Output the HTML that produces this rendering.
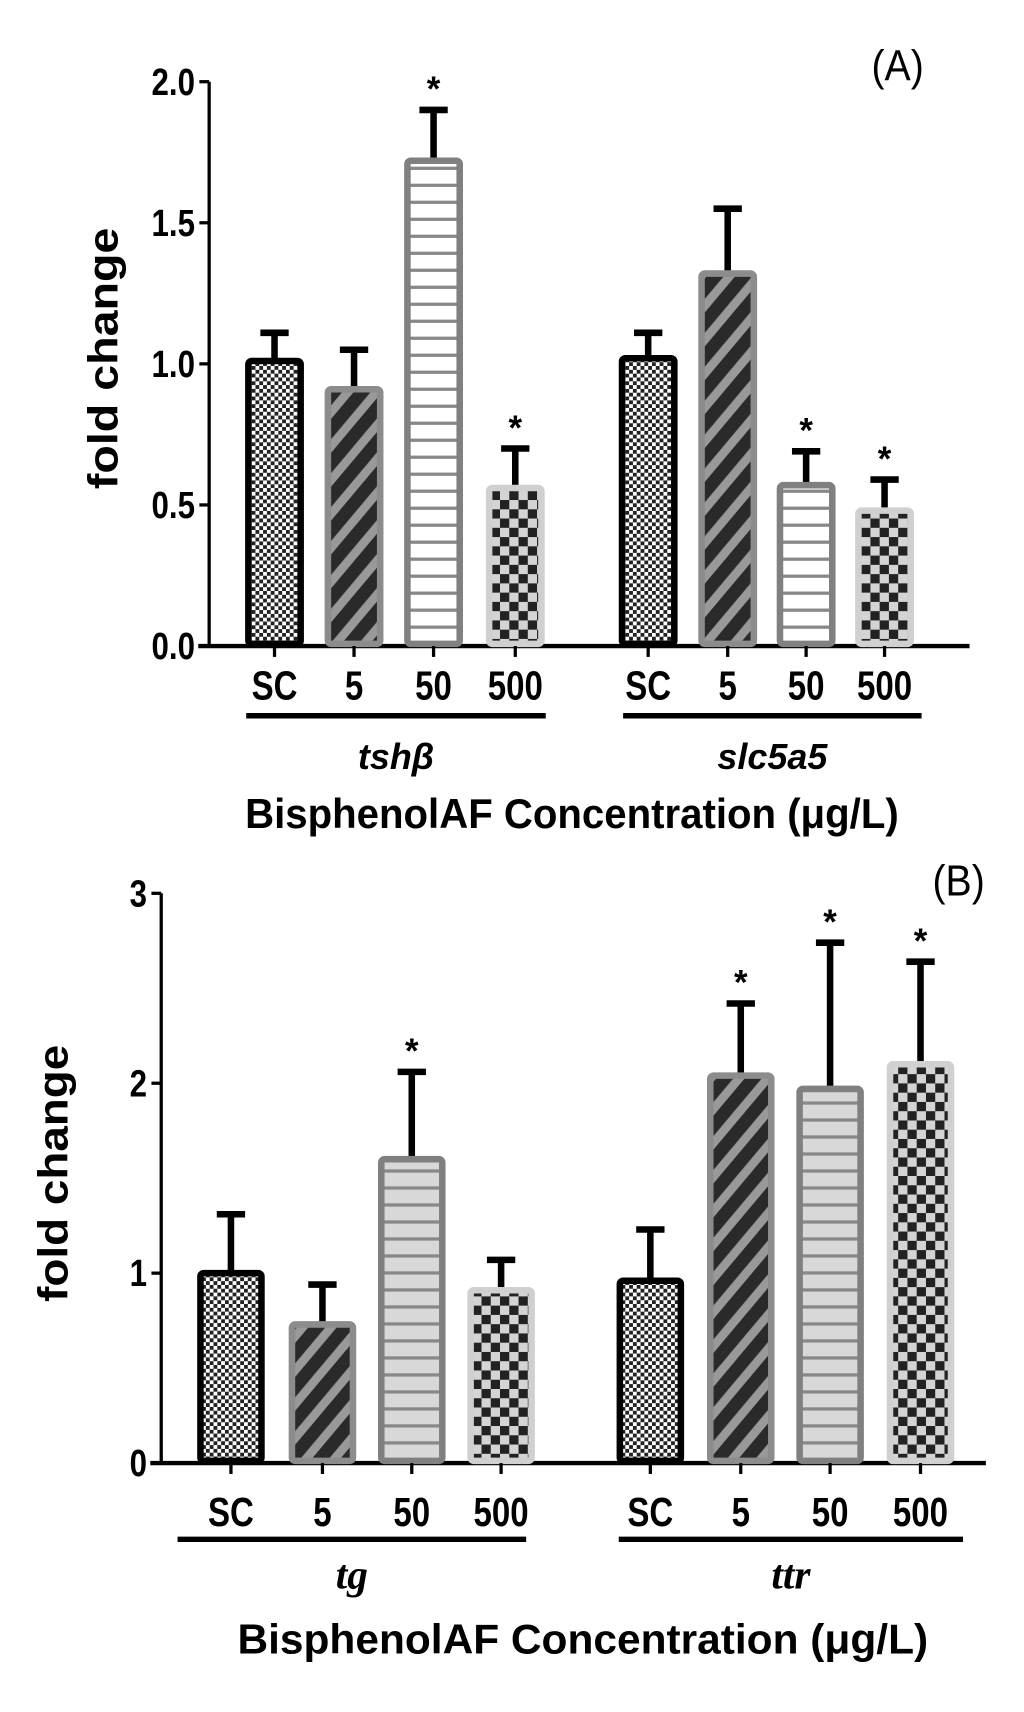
<!DOCTYPE html>
<html><head><meta charset="utf-8"><style>
html,body{margin:0;padding:0;background:#fff;}
svg{display:block;}
</style></head><body>
<svg id="fig" width="1024" height="1712" viewBox="0 0 940 1571.5" preserveAspectRatio="none" xmlns="http://www.w3.org/2000/svg" font-family="Liberation Sans, Arial, sans-serif">
<defs>
<pattern id="pSC" width="7" height="7" patternUnits="userSpaceOnUse"><rect width="7" height="7" fill="#fff"/><rect width="3.5" height="3.5" fill="#222"/><rect x="3.5" y="3.5" width="3.5" height="3.5" fill="#222"/></pattern>
<pattern id="p5" width="20" height="20" patternUnits="userSpaceOnUse" patternTransform="rotate(40)"><rect width="20" height="20" fill="#999"/><rect width="12" height="20" fill="#2a2a2a"/></pattern>
<pattern id="p50a" width="10" height="15.6" patternUnits="userSpaceOnUse"><rect width="10" height="15.6" fill="#fff"/><rect y="12.6" width="10" height="3" fill="#888"/></pattern>
<pattern id="p50b" width="10" height="15.6" patternUnits="userSpaceOnUse"><rect width="10" height="15.6" fill="#d8d8d8"/><rect y="12.6" width="10" height="3" fill="#888"/></pattern>
<pattern id="p500" width="17" height="17" patternUnits="userSpaceOnUse"><rect width="17" height="17" fill="#d4d4d4"/><rect width="8.5" height="8.5" fill="#222"/><rect x="8.5" y="8.5" width="8.5" height="8.5" fill="#222"/></pattern>
</defs>
<g id="panelA"></g>
<g id="panelB"></g>
</svg>
<script>
const groupLabels = ["SC","5","50","500"];
const aGenes = ["tshβ","slc5a5"];
const aValues = [[1.01,0.91,1.72,0.56],[1.02,1.32,0.57,0.48]];
const aErrors = [[1.11,1.05,1.90,0.70],[1.11,1.55,0.69,0.59]];
const aSig = [[false,false,true,true],[false,false,true,true]];
const aTicks = ["0.0","0.5","1.0","1.5","2.0"];
const aTickVals = [0,0.5,1,1.5,2];
const bGenes = ["tg","ttr"];
const bValues = [[1.0,0.73,1.6,0.91],[0.96,2.04,1.97,2.1]];
const bErrors = [[1.31,0.94,2.06,1.07],[1.23,2.42,2.74,2.64]];
const bSig = [[false,false,true,false],[false,true,true,true]];
const bTicks = ["0","1","2","3"];
const bTickVals = [0,1,2,3];

const NS="http://www.w3.org/2000/svg";
function mk(tag,attrs,parent,txt){const e=document.createElementNS(NS,tag);for(const k in attrs)e.setAttribute(k,attrs[k]);if(txt!==undefined)e.textContent=txt;parent.appendChild(e);return e;}
const fills=["url(#pSC)","url(#p5)",null,"url(#p500)"];
const strokes=["#000","#8c8c8c","#808080","#d0d0d0"];
const SX=0.82;

function panel(g,cfg){
  const y=v=>cfg.y0-(v/cfg.ymax)*(cfg.y0-cfg.yTop);
  let ax=mk('line',{x1:cfg.ax,y1:cfg.y0,x2:cfg.ax,y2:y(cfg.ymax),stroke:'#000','stroke-width':3},g);
  
  
  let xl=mk('line',{x1:cfg.ax-10,y1:cfg.y0,x2:cfg.xEnd,y2:cfg.y0,stroke:'#000','stroke-width':4},g);
  
  
  cfg.tickVals.forEach((tv,i)=>{
    let t=mk('line',{x1:cfg.ax-9,y1:y(tv),x2:cfg.ax,y2:y(tv),stroke:'#000','stroke-width':3},g);
    
    
    let tl=mk('text',{x:(cfg.ax-13)/SX,y:y(tv)+12,'text-anchor':'end','font-size':35,'font-weight':'bold',transform:`scale(${SX},1)`},g,cfg.ticks[i]);
    
    
  });
  cfg.values.forEach((vals,gi)=>{
    vals.forEach((v,bi)=>{
      const cx=cfg.centers[gi][bi], w=cfg.bw;
      const er=mk('line',{x1:cx,y1:y(v),x2:cx,y2:y(cfg.errors[gi][bi]),stroke:'#000','stroke-width':6},g);
      
      
      const cap=mk('line',{x1:cx-13,y1:y(cfg.errors[gi][bi]),x2:cx+13,y2:y(cfg.errors[gi][bi]),stroke:'#000','stroke-width':6},g);
      
      
      const f=fills[bi]||cfg.fill50;
      const r=mk('rect',{x:cx-w/2,y:y(v),width:w,height:cfg.y0-y(v)-2,fill:f,stroke:strokes[bi],'stroke-width':6,rx:3},g);
      
      
      const tk=mk('line',{x1:cx,y1:cfg.y0,x2:cx,y2:cfg.y0+10,stroke:'#000','stroke-width':3},g);
      
      
      const lb=mk('text',{x:cx/SX,y:cfg.labY,'text-anchor':'middle','font-size':37,'font-weight':'bold',transform:`scale(${SX},1)`},g,groupLabels[bi]);
      
      
      if(cfg.sig[gi][bi]){
        const s=mk('text',{x:cx,y:y(cfg.errors[gi][bi])-8,'text-anchor':'middle','font-size':32,'font-weight':'bold'},g,'*');
        
        
      }
    });
    const ul=mk('line',{x1:cfg.ul[gi][0],y1:cfg.ulY,x2:cfg.ul[gi][1],y2:cfg.ulY,stroke:'#000','stroke-width':5},g);
    
    
    const gl=mk('text',{x:(cfg.ul[gi][0]+cfg.ul[gi][1])/2,y:cfg.geneY,'text-anchor':'middle','font-size':cfg.geneSize,'font-style':'italic','font-weight':'bold','font-family':cfg.geneSerif?'Liberation Serif, serif':'Liberation Sans, sans-serif'},g,cfg.genes[gi]);
    
    
  });
  const xt=mk('text',{x:cfg.titleX,y:cfg.titleY,'text-anchor':'middle','font-size':38,'font-weight':'bold',textLength:cfg.titleLen,lengthAdjust:'spacingAndGlyphs'},g,'BisphenolAF Concentration (μg/L)');
  
  
  const yt=mk('text',{x:0,y:0,'text-anchor':'middle','font-size':38,'font-weight':'bold',textLength:cfg.ylen,lengthAdjust:'spacingAndGlyphs',transform:`translate(${cfg.ylx},${cfg.yly}) rotate(-90)`},g,'fold change');
  
  
  const pl=mk('text',{x:cfg.plx,y:cfg.ply,'text-anchor':'middle','font-size':40,transform:`translate(${cfg.plx*0.1},0) scale(0.9,1)`},g,cfg.plabel);
  
  
}
panel(document.getElementById('panelA'),{ax:192,y0:593,yTop:75,ymax:2,xEnd:890,ticks:aTicks,tickVals:aTickVals,
  values:aValues,errors:aErrors,sig:aSig,genes:aGenes,centers:[[252,325,398,473],[595,668,740,812]],bw:48,fill50:'url(#p50a)',
  labY:642,ul:[[226,501],[572,846]],ulY:657,geneY:706,geneSize:33,geneSerif:false,titleX:525,titleY:760,titleLen:600,
  ylen:240,ylx:108,yly:329,plx:824,ply:74,plabel:'(A)'});
panel(document.getElementById('panelB'),{ax:148,y0:1343,yTop:820,ymax:3,xEnd:905,ticks:bTicks,tickVals:bTickVals,
  values:bValues,errors:bErrors,sig:bSig,genes:bGenes,centers:[[212,296,378,460],[597,680,762,845]],bw:56,fill50:'url(#p50b)',
  labY:1401,ul:[[163,483],[568,884]],ulY:1413,geneY:1458,geneSize:38,geneSerif:true,titleX:535,titleY:1518,titleLen:634,
  ylen:236,ylx:62,yly:1077,plx:880,ply:822,plabel:'(B)'});
</script>
</body></html>
